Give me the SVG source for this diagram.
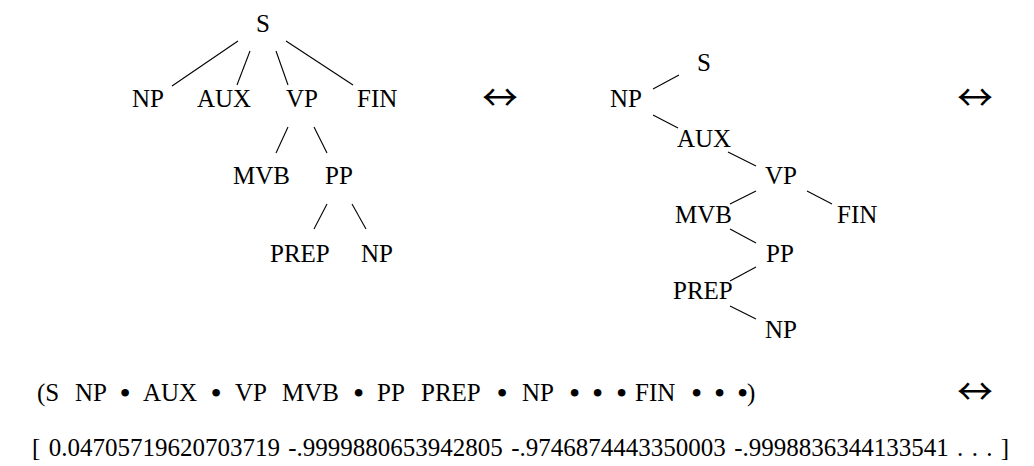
<svg xmlns="http://www.w3.org/2000/svg" width="1034" height="466" viewBox="0 0 1034 466">
  <style>
    text { font-family: "Liberation Serif", "Times New Roman", serif; font-size: 25px; fill: #000; }
    .arrow { font-family: "Noto Sans CJK SC", "DejaVu Sans", sans-serif; font-size: 36px; }
    .dot { font-size: 32px; }
    .vec { word-spacing: 2.1px; }
    #connectors line { stroke: #000; stroke-width: 1.1; }
  </style>
  <rect width="1034" height="466" fill="#fff"/>

  <!-- connectors -->
  <g id="connectors">
    <!-- left tree -->
    <line x1="238" y1="41" x2="172" y2="86"/>
    <line x1="250" y1="51" x2="237" y2="85"/>
    <line x1="276" y1="51" x2="288" y2="85"/>
    <line x1="286" y1="41" x2="353" y2="85"/>
    <line x1="288" y1="127" x2="276" y2="153"/>
    <line x1="314" y1="127" x2="327" y2="153"/>
    <line x1="327" y1="204" x2="314" y2="229"/>
    <line x1="352" y1="204" x2="366" y2="229"/>
    <!-- right tree -->
    <line x1="679" y1="75" x2="653" y2="89"/>
    <line x1="653" y1="115" x2="678" y2="128"/>
    <line x1="728" y1="152" x2="756" y2="166"/>
    <line x1="756" y1="191" x2="730" y2="204"/>
    <line x1="807" y1="191" x2="832" y2="204"/>
    <line x1="730" y1="229" x2="756" y2="243"/>
    <line x1="756" y1="267" x2="730" y2="281"/>
    <line x1="730" y1="306" x2="756" y2="319"/>
  </g>

  <!-- left tree nodes -->
  <g id="l-S"><text x="256" y="32">S</text></g>
  <g id="l-NP"><text x="132" y="107">NP</text></g>
  <g id="l-AUX"><text x="197" y="107">AUX</text></g>
  <g id="l-VP"><text x="286" y="107">VP</text></g>
  <g id="l-FIN"><text x="357" y="107">FIN</text></g>
  <g id="l-MVB"><text x="233" y="184">MVB</text></g>
  <g id="l-PP"><text x="325" y="184">PP</text></g>
  <g id="l-PREP"><text x="270" y="262">PREP</text></g>
  <g id="l-NP2"><text x="361" y="262">NP</text></g>

  <!-- right tree nodes -->
  <g id="r-S"><text x="697" y="71">S</text></g>
  <g id="r-NP"><text x="610" y="107">NP</text></g>
  <g id="r-AUX"><text x="677" y="147">AUX</text></g>
  <g id="r-VP"><text x="765" y="184">VP</text></g>
  <g id="r-MVB"><text x="675" y="223">MVB</text></g>
  <g id="r-FIN"><text x="837" y="223">FIN</text></g>
  <g id="r-PP"><text x="766" y="262">PP</text></g>
  <g id="r-PREP"><text x="673" y="299">PREP</text></g>
  <g id="r-NP2"><text x="765" y="338">NP</text></g>

  <!-- equivalence arrows -->
  <g id="equiv-1"><text class="arrow" x="482" y="111" textLength="36" lengthAdjust="spacingAndGlyphs">↔</text></g>
  <g id="equiv-2"><text class="arrow" x="957" y="111" textLength="36" lengthAdjust="spacingAndGlyphs">↔</text></g>
  <g id="equiv-3"><text class="arrow" x="957" y="405" textLength="36" lengthAdjust="spacingAndGlyphs">↔</text></g>

  <!-- bracketed sequence -->
  <g id="sequence">
    <text y="401"><tspan x="37">(S</tspan><tspan x="75">NP</tspan><tspan class="dot" x="119.5" y="404">•</tspan><tspan x="143" y="401">AUX</tspan><tspan class="dot" x="210.5" y="404">•</tspan><tspan x="235" y="401">VP</tspan><tspan x="282">MVB</tspan><tspan class="dot" x="353" y="404">•</tspan><tspan x="377" y="401">PP</tspan><tspan x="421">PREP</tspan><tspan class="dot" x="496.5" y="404">•</tspan><tspan x="522" y="401">NP</tspan><tspan class="dot" x="569" y="404">•</tspan><tspan class="dot" x="592">•</tspan><tspan class="dot" x="616">•</tspan><tspan x="635" y="401">FIN</tspan><tspan class="dot" x="691" y="404">•</tspan><tspan class="dot" x="714">•</tspan><tspan class="dot" x="737">•</tspan><tspan x="747" y="401">)</tspan></text>
  </g>

  <!-- vector -->
  <g id="vector">
    <text class="vec" x="32" y="456">[ 0.04705719620703719 -.9999880653942805 -.9746874443350003 -.9998836344133541 . . . ]</text>
  </g>
</svg>
